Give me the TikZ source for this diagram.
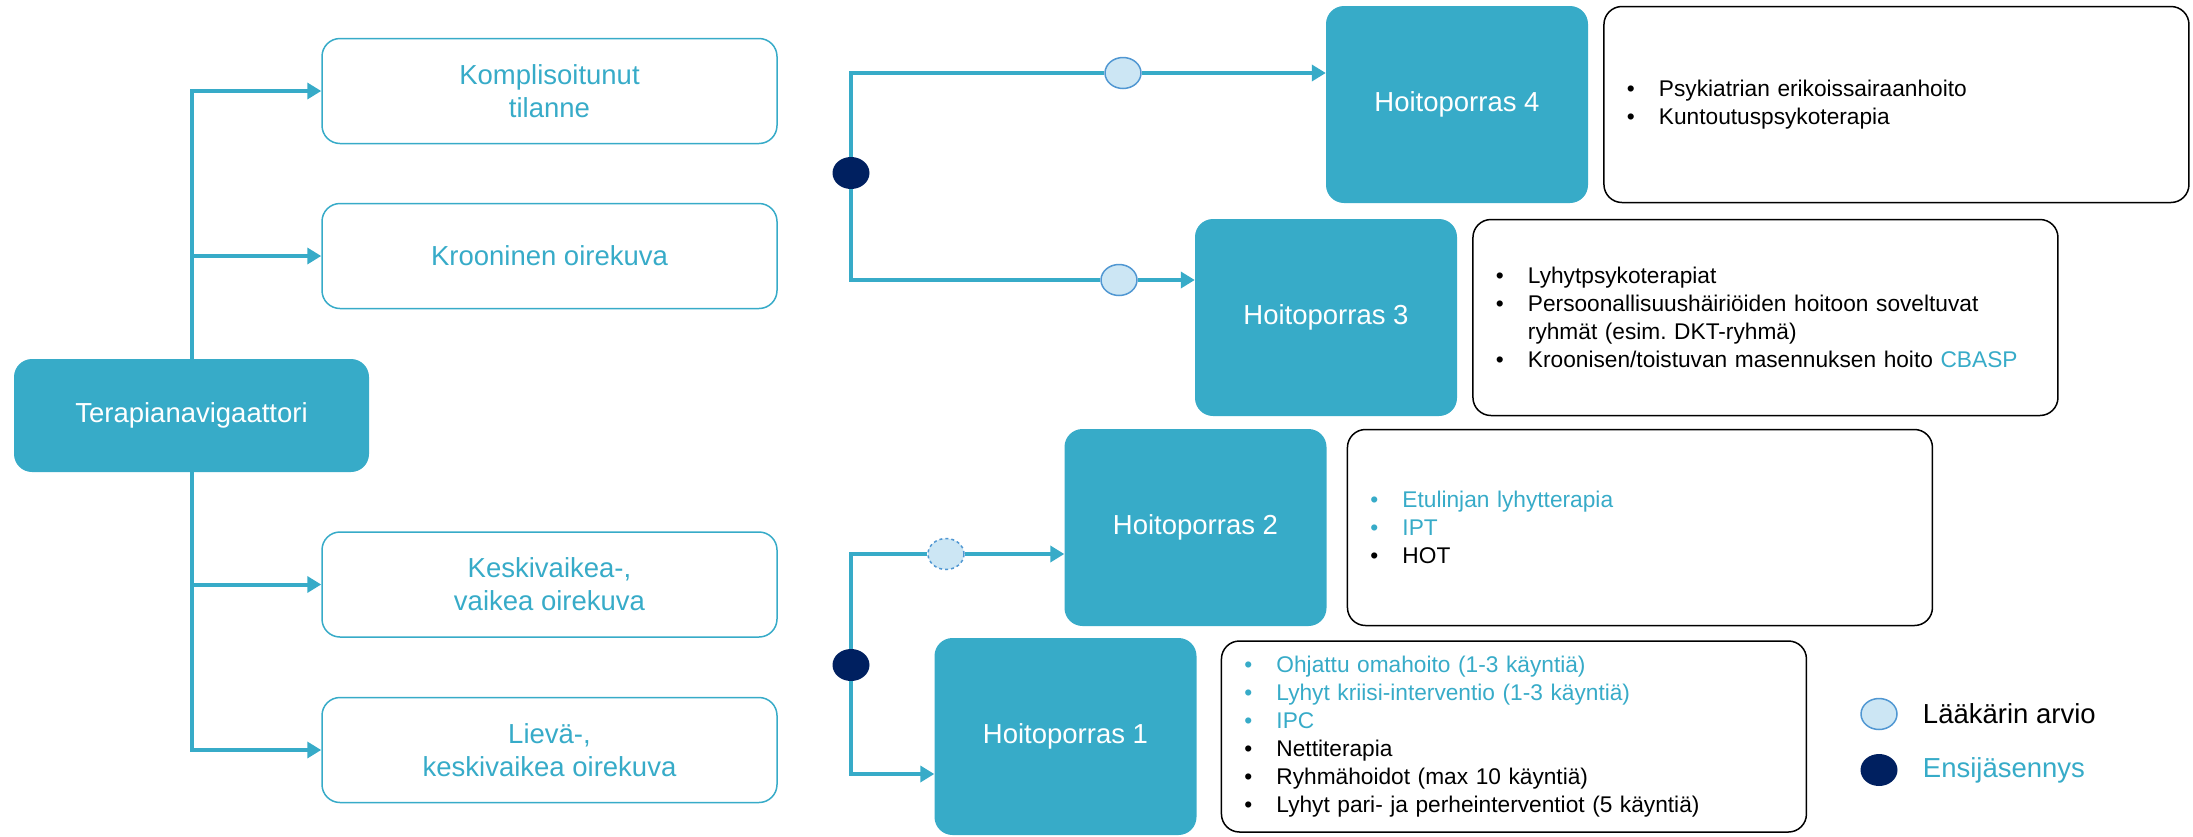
\documentclass[tikz,border=0pt]{standalone}
\usepackage{xcolor}
\usepackage{fontspec}
\setmainfont{Liberation Sans}
\usepackage{tikz}
\usetikzlibrary{positioning, arrows.meta, shapes}
\definecolor{turkoosi}{RGB}{55, 171, 200}
\definecolor{tummansin}{RGB}{0, 32, 96}
\definecolor{vaalea}{RGB}{204, 230, 244}
\definecolor{reuna}{RGB}{80, 151, 210}
\newcommand{\isofontti}{\fontsize{27.5pt}{33pt}\selectfont}
\newcommand{\pienfontti}{\fontsize{22.7pt}{28pt}\selectfont}
\newcommand{\kohta}[1]{\makebox[32pt][l]{\textbullet}#1}
\frenchspacing
\tikzset{
    navi/.style={fill=turkoosi, rounded corners=18pt, text=white, font=\isofontti, minimum width=355pt, minimum height=113pt},
    tila/.style={draw=turkoosi, line width=1.5pt, rounded corners=18pt, text=turkoosi, font=\isofontti, align=center, minimum width=455pt, minimum height=105pt},
    porras/.style={fill=turkoosi, rounded corners=18pt, text=white, font=\isofontti, minimum width=262pt, minimum height=197pt},
    kuvaus/.style={draw=black, line width=1.5pt, rounded corners=18pt, font=\pienfontti, align=left, text width=539pt, inner xsep=23pt, minimum height=196pt},
    arvio/.style={ellipse, draw=reuna, fill=vaalea, line width=1.5pt, minimum width=36pt, minimum height=31pt, inner sep=0pt},
    ensi/.style={ellipse, fill=tummansin, minimum width=37pt, minimum height=32pt, inner sep=0pt},
    yhd/.style={-, turkoosi, line width=4pt},
    nuoli/.style={yhd, -{Triangle[length=14pt, width=16pt]}},
    selite/.style={font=\isofontti, inner sep=0pt},
}

\begin{document}
\begin{tikzpicture}[x=1pt, y=-1pt]
        \useasboundingbox (0,0) rectangle (2193,836);

        \node[navi] (root) at (191.5,415.5) {Terapianavigaattori};

        \node[tila] (k1) at (549.5,91) {Komplisoitunut\\tilanne};
        \node[tila] (k2) at (549.5,256) {Krooninen oirekuva};
        \node[tila] (k3) at (549.5,584.5) {Keskivaikea-,\\vaikea oirekuva};
        \node[tila] (k4) at (549.5,750) {Lievä-,\\keskivaikea oirekuva};

        \node[porras] (h4) at (1457,104.5) {Hoitoporras 4};
        \node[porras] (h3) at (1326,317.5) {Hoitoporras 3};
        \node[porras] (h2) at (1195.5,527.5) {Hoitoporras 2};
        \node[porras] (h1) at (1065.5,736.5) {Hoitoporras 1};

        \node[kuvaus, right=15pt of h4] (d4) {\kohta{Psykiatrian erikoissairaanhoito}\\
            \kohta{Kuntoutuspsykoterapia}};
        \node[kuvaus, right=15pt of h3] (d3) {\kohta{Lyhytpsykoterapiat}\\
            \kohta{Persoonallisuushäiriöiden hoitoon soveltuvat}\\
            \hspace*{32pt}ryhmät (esim. DKT-ryhmä)\\
            \kohta{Kroonisen/toistuvan masennuksen hoito \textcolor{turkoosi}{CBASP}}};
        \node[kuvaus, right=20pt of h2] (d2) {\textcolor{turkoosi}{\kohta{Etulinjan lyhytterapia}}\\
            \textcolor{turkoosi}{\kohta{IPT}}\\
            \kohta{HOT}};
        \node[kuvaus, right=24pt of h1, minimum height=191pt] (d1) {\textcolor{turkoosi}{\kohta{Ohjattu omahoito (1-3 käyntiä)}}\\
            \textcolor{turkoosi}{\kohta{Lyhyt kriisi-interventio (1-3 käyntiä)}}\\
            \textcolor{turkoosi}{\kohta{IPC}}\\
            \kohta{Nettiterapia}\\
            \kohta{Ryhmähoidot (max 10 käyntiä)}\\
            \kohta{Lyhyt pari- ja perheinterventiot (5 käyntiä)}};

        \node[ensi] (e1) at (851,173) {};
        \node[arvio] (a4) at (1123,73) {};
        \node[arvio] (a3) at (1119,280) {};
        \node[ensi] (e2) at (851,665) {};
        \node[arvio, dashed] (a2) at (946,554) {};

        \node[arvio] (la) at (1879,714) {};
        \node[ensi] (le) at (1879,770) {};
        \node[selite, right=25pt of la] (lta) {Lääkärin arvio};
        \node[selite, right=25pt of le, text=turkoosi] (lte) {Ensijäsennys};

        \draw[nuoli] (root.north) |- (k1.west);
        \draw[nuoli] (root.north) |- (k2.west);
        \draw[nuoli] (root.south) |- (k3.west);
        \draw[nuoli] (root.south) |- (k4.west);

        \draw[yhd] (e1) |- (a4);
        \draw[nuoli] (a4) -- (h4.west |- a4);
        \draw[yhd] (e1) |- (a3);
        \draw[nuoli] (a3) -- (h3.west |- a3);

        \draw[yhd] (e2) |- (a2);
        \draw[nuoli] (a2) -- (h2.west |- a2);
        \draw[nuoli] (e2) |- ([yshift=-37.5pt]h1.west);
\end{tikzpicture}
\end{document}
